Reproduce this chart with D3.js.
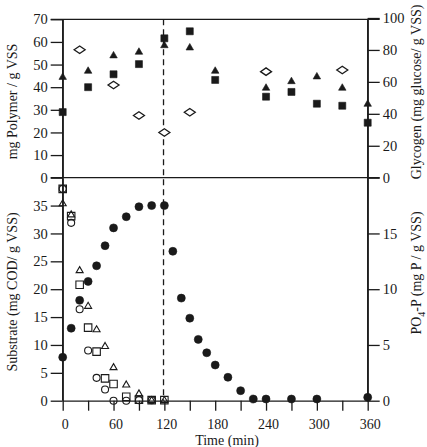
<!DOCTYPE html>
<html><head><meta charset="utf-8">
<script src="https://cdn.jsdelivr.net/npm/d3@7"></script>
<style>
html,body{margin:0;padding:0;background:#fff;}
svg text{font-family:"Liberation Serif","Times New Roman",serif;fill:#1a1a1a;}
</style></head>
<body><svg id="c" width="427" height="447"></svg>
<script>
// ---- data ----
const timeTop = [0, 30, 60, 90, 120, 150, 180, 240, 270, 300, 330, 360];
const polymerTri = [44.6, 47.3, 54.1, 55.7, 58.6, 57.6, 47.3, 39.8, 42.7, 44.8, 39.8, 32.7];
const polymerSq = [29.0, 40.0, 45.7, 50.2, 61.6, 64.7, 43.2, 35.8, 37.9, 32.7, 31.8, 24.3];
const timeGly = [20, 60, 90, 120, 150, 240, 330];
const glycogen = [80.1, 58.0, 39.0, 28.3, 41.0, 66.4, 67.4];

const timeSub = [0, 10, 20, 30, 40, 50, 60, 75, 90, 105, 120];
const substrateSq = [38.0, 33.1, 20.8, 13.1, 8.8, 4.0, 3.0, 0.7, 0.2, 0.1, 0.1];
const substrateCirc = [38.0, 31.9, 16.4, 9.0, 4.1, 2.0, 0.0, 0.0, 0.1, 0.1, null];
const substrateTri = [35.4, 33.4, 23.4, 17.0, 12.8, 9.8, 6.0, 2.9, 1.3, 0.1, 0.1];

const timeP = [0, 10, 20, 30, 40, 50, 60, 75, 90, 105, 120, 130, 140, 150, 160, 170, 180, 195, 210, 225, 240, 270, 300, 360];
const po4 = [3.9, 6.5, 9.0, 10.7, 12.1, 13.9, 15.5, 16.5, 17.4, 17.5, 17.5, 13.4, 9.2, 7.4, 5.5, 4.3, 3.2, 2.1, 0.9, 0.15, 0.15, 0.15, 0.15, 0.3];

const switchTime = 119;
const xTicks = [0, 30, 60, 90, 120, 150, 180, 210, 240, 270, 300, 330, 360];
const polymerTicks = [0, 10, 20, 30, 40, 50, 60, 70];
const glycogenTicks = [0, 20, 40, 60, 80, 100];
const substrateTicks = [0, 5, 10, 15, 20, 25, 30, 35];
const po4Ticks = [0, 5, 10, 15];

// ---- layout ----
const svg = d3.select("#c");
const L = 62.7, R = 367.7, T = 19.3, M = 177.7, B = 400.7;
const x = d3.scaleLinear([0, 360], [L, R]);
const yPoly = d3.scaleLinear([0, 70], [M, T]);
const yGly = d3.scaleLinear([0, 100], [M, 18]);
const ySub = d3.scaleLinear([0, 40], [B, M]);
const yP = d3.scaleLinear([0, 20], [B, M]);
const ink = "#1a1a1a", lw = 1.3, fs = "14.5px";

function styleAxis(g){
  g.selectAll("path.domain").attr("stroke", ink).attr("stroke-width", lw);
  g.selectAll(".tick line").attr("stroke", ink).attr("stroke-width", lw);
  g.selectAll(".tick text").style("font-size", fs).attr("fill", ink)
    .style("font-family", '"Liberation Serif","Times New Roman",serif');
}
svg.append("g").attr("transform", `translate(${L},0)`)
  .call(d3.axisLeft(yPoly).tickValues(polymerTicks).tickSize(12).tickSizeOuter(0).tickPadding(3)).call(styleAxis);
svg.append("g").attr("transform", `translate(${L},0)`)
  .call(d3.axisLeft(ySub).tickValues(substrateTicks).tickSize(12).tickSizeOuter(0).tickPadding(3)).call(styleAxis);
svg.append("g").attr("transform", `translate(${R},0)`)
  .call(d3.axisRight(yGly).tickValues(glycogenTicks).tickSize(12).tickSizeOuter(0).tickPadding(3)).call(styleAxis);
svg.append("g").attr("transform", `translate(${R},0)`)
  .call(d3.axisRight(yP).tickValues(po4Ticks).tickSize(12).tickSizeOuter(0).tickPadding(3)).call(styleAxis);
const xa = svg.append("g").attr("transform", `translate(0,${B})`)
  .call(d3.axisBottom(x).tickValues(xTicks).tickSize(10).tickSizeOuter(0).tickPadding(8)
    .tickFormat(d => d % 60 === 0 ? d : "")).call(styleAxis);
xa.selectAll(".tick text").attr("dx", 2).style("font-size", "14px");

// extend axis lines to whole height
svg.append("line").attr("x1", L).attr("x2", L).attr("y1", T).attr("y2", B).attr("stroke", ink).attr("stroke-width", lw);
svg.append("line").attr("x1", R).attr("x2", R).attr("y1", T).attr("y2", B).attr("stroke", ink).attr("stroke-width", lw);
// frame lines
svg.append("line").attr("x1", L - 12).attr("x2", R + 12).attr("y1", T).attr("y2", T).attr("stroke", ink).attr("stroke-width", lw);
svg.append("line").attr("x1", L - 12).attr("x2", R + 12).attr("y1", M).attr("y2", M).attr("stroke", ink).attr("stroke-width", lw);
// dashed switch line
svg.append("line").attr("x1", x(switchTime)).attr("x2", x(switchTime)).attr("y1", T).attr("y2", B)
  .attr("stroke", ink).attr("stroke-width", 1.3).attr("stroke-dasharray", "6,4");

// ---- marker shapes ----
const tri = (w, h) => `M0,${-h*0.6}L${w/2},${h*0.4}L${-w/2},${h*0.4}Z`;
const sq = s => `M${-s/2},${-s/2}h${s}v${s}h${-s}Z`;
const dia = (w, h) => `M0,${-h/2}L${w/2},0L0,${h/2}L${-w/2},0Z`;

function plot(times, vals, yS, path, filled, sw){
  const pts = times.map((t, i) => ({t, v: vals[i]})).filter(d => d.v != null);
  svg.append("g").selectAll("path").data(pts).join("path")
    .attr("transform", d => `translate(${x(d.t)},${yS(d.v)})`)
    .attr("d", path)
    .attr("fill", filled ? ink : "#fff")
    .attr("stroke", ink).attr("stroke-width", filled ? 0.6 : sw);
}
function plotCirc(times, vals, yS, r, filled, sw){
  const pts = times.map((t, i) => ({t, v: vals[i]})).filter(d => d.v != null);
  svg.append("g").selectAll("circle").data(pts).join("circle")
    .attr("cx", d => x(d.t)).attr("cy", d => yS(d.v)).attr("r", r)
    .attr("fill", filled ? ink : "#fff").attr("fill-opacity", filled ? 1 : 0)
    .attr("stroke", ink).attr("stroke-width", filled ? 0.6 : sw);
}
// top panel
plot(timeGly, glycogen, yGly, dia(11, 7.5), false, 1.3);
plot(timeTop, polymerTri, yPoly, tri(7.5, 6.5), true);
plot(timeTop, polymerSq, yPoly, sq(7), true);
// bottom panel
plotCirc(timeP, po4, yP, 4, true);
function plotOpen(times, vals, yS, path){
  const pts = times.map((t, i) => ({t, v: vals[i]})).filter(d => d.v != null);
  svg.append("g").selectAll("path").data(pts).join("path")
    .attr("transform", d => `translate(${x(d.t)},${yS(d.v)})`)
    .attr("d", path).attr("fill", "none").attr("stroke", ink).attr("stroke-width", 1.1);
}
plotOpen(timeSub, substrateSq, ySub, sq(7.5));
plotOpen(timeSub, substrateTri, ySub, tri(7, 6));
plotCirc(timeSub, substrateCirc, ySub, 3.5, false, 1.1);

// ---- titles ----
svg.append("text").attr("transform", `translate(17,${(T + M) / 2 + 3}) rotate(-90)`)
  .attr("text-anchor", "middle").style("font-size", "14px").text("mg Polymer / g VSS");
svg.append("text").attr("transform", `translate(17,${292}) rotate(-90)`)
  .attr("text-anchor", "middle").style("font-size", "14px").text("Substrate (mg COD/ g VSS)");
svg.append("text").attr("transform", `translate(421,${92}) rotate(-90)`)
  .attr("text-anchor", "middle").style("font-size", "14px").text("Glycogen (mg glucose/ g VSS)");
const pt = svg.append("text").attr("transform", `translate(421,${273}) rotate(-90)`)
  .attr("text-anchor", "middle").style("font-size", "14px");
pt.append("tspan").text("PO");
pt.append("tspan").attr("dy", 4).style("font-size", "10px").text("4");
pt.append("tspan").attr("dy", -4).text("-P (mg P / g VSS)");
svg.append("text").attr("x", 227).attr("y", 445).attr("text-anchor", "middle")
  .style("font-size", "14px").text("Time (min)");
</script></body></html>
